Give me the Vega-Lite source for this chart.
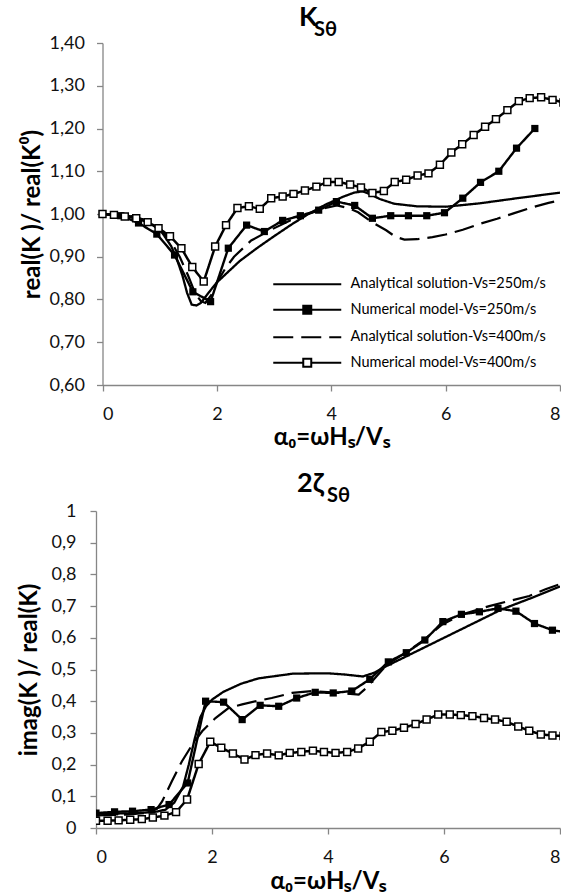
{
  "$schema": "https://vega.github.io/schema/vega-lite/v6.json",
  "background": "white",
  "padding": {"left": 17, "top": 4, "right": 0, "bottom": 0},
  "config": {
    "locale": {"number": {"decimal": ",", "thousands": ".", "grouping": [3], "currency": ["", " €"]}},
    "view": {"stroke": null},
    "font": "Lato",
    "axis": {"grid": false, "domainColor": "#868686", "tickColor": "#868686", "domainWidth": 1.3, "tickWidth": 1.3, "tickSize": 6, "labelFont": "Lato", "labelFontSize": 18, "labelColor": "#111111", "titleFont": "Lato", "titleFontSize": 24, "titleFontWeight": "bold", "titleColor": "black", "labelPadding": 13}
  },
  "datasets": {
    "top": [
      {"s":"A250","x":0,"y":1.0},{"s":"A250","x":0.4,"y":0.997},{"s":"A250","x":0.7,"y":0.988},{"s":"A250","x":0.9,"y":0.972},{"s":"A250","x":1.05,"y":0.955},{"s":"A250","x":1.2,"y":0.925},{"s":"A250","x":1.3,"y":0.895},{"s":"A250","x":1.4,"y":0.855},{"s":"A250","x":1.48,"y":0.815},{"s":"A250","x":1.56,"y":0.788},{"s":"A250","x":1.64,"y":0.786},{"s":"A250","x":1.72,"y":0.792},{"s":"A250","x":1.85,"y":0.815},{"s":"A250","x":2.0,"y":0.84},{"s":"A250","x":2.2,"y":0.865},{"s":"A250","x":2.4,"y":0.89},{"s":"A250","x":2.7,"y":0.92},{"s":"A250","x":3.0,"y":0.948},{"s":"A250","x":3.3,"y":0.975},{"s":"A250","x":3.6,"y":1.0},{"s":"A250","x":3.9,"y":1.022},{"s":"A250","x":4.2,"y":1.04},{"s":"A250","x":4.4,"y":1.05},{"s":"A250","x":4.55,"y":1.053},{"s":"A250","x":4.7,"y":1.045},{"s":"A250","x":4.85,"y":1.035},{"s":"A250","x":5.1,"y":1.024},{"s":"A250","x":5.5,"y":1.018},{"s":"A250","x":6.0,"y":1.017},{"s":"A250","x":6.6,"y":1.025},{"s":"A250","x":7.2,"y":1.036},{"s":"A250","x":7.6,"y":1.043},{"s":"A250","x":8.0,"y":1.05},
      {"s":"A400","x":0,"y":1.0},{"s":"A400","x":0.5,"y":0.995},{"s":"A400","x":0.8,"y":0.983},{"s":"A400","x":1.0,"y":0.967},{"s":"A400","x":1.2,"y":0.935},{"s":"A400","x":1.35,"y":0.9},{"s":"A400","x":1.5,"y":0.855},{"s":"A400","x":1.62,"y":0.815},{"s":"A400","x":1.72,"y":0.796},{"s":"A400","x":1.8,"y":0.792},{"s":"A400","x":1.9,"y":0.81},{"s":"A400","x":2.0,"y":0.84},{"s":"A400","x":2.15,"y":0.873},{"s":"A400","x":2.3,"y":0.9},{"s":"A400","x":2.6,"y":0.938},{"s":"A400","x":2.93,"y":0.962},{"s":"A400","x":3.28,"y":0.985},{"s":"A400","x":3.6,"y":1.0},{"s":"A400","x":3.9,"y":1.014},{"s":"A400","x":4.1,"y":1.02},{"s":"A400","x":4.3,"y":1.014},{"s":"A400","x":4.47,"y":1.004},{"s":"A400","x":4.71,"y":0.981},{"s":"A400","x":4.96,"y":0.962},{"s":"A400","x":5.12,"y":0.947},{"s":"A400","x":5.28,"y":0.94},{"s":"A400","x":5.5,"y":0.941},{"s":"A400","x":5.77,"y":0.946},{"s":"A400","x":6.0,"y":0.952},{"s":"A400","x":6.3,"y":0.963},{"s":"A400","x":6.6,"y":0.977},{"s":"A400","x":6.9,"y":0.989},{"s":"A400","x":7.2,"y":1.002},{"s":"A400","x":7.5,"y":1.015},{"s":"A400","x":7.8,"y":1.026},{"s":"A400","x":8.0,"y":1.032},
      {"s":"N250","x":0,"y":1.0},{"s":"N250","x":0.32,"y":0.996},{"s":"N250","x":0.63,"y":0.979},{"s":"N250","x":0.95,"y":0.953},{"s":"N250","x":1.26,"y":0.904},{"s":"N250","x":1.58,"y":0.818},{"s":"N250","x":1.89,"y":0.795},{"s":"N250","x":2.2,"y":0.92},{"s":"N250","x":2.52,"y":0.974},{"s":"N250","x":2.83,"y":0.959},{"s":"N250","x":3.15,"y":0.985},{"s":"N250","x":3.46,"y":0.996},{"s":"N250","x":3.78,"y":1.009},{"s":"N250","x":4.09,"y":1.029},{"s":"N250","x":4.41,"y":1.02},{"s":"N250","x":4.72,"y":0.99},{"s":"N250","x":5.04,"y":0.996},{"s":"N250","x":5.35,"y":0.996},{"s":"N250","x":5.67,"y":0.996},{"s":"N250","x":5.98,"y":1.003},{"s":"N250","x":6.3,"y":1.037},{"s":"N250","x":6.61,"y":1.074},{"s":"N250","x":6.93,"y":1.1},{"s":"N250","x":7.24,"y":1.154},{"s":"N250","x":7.56,"y":1.2},
      {"s":"N400","x":0,"y":1.0},{"s":"N400","x":0.2,"y":0.998},{"s":"N400","x":0.39,"y":0.994},{"s":"N400","x":0.59,"y":0.99},{"s":"N400","x":0.79,"y":0.981},{"s":"N400","x":0.98,"y":0.967},{"s":"N400","x":1.18,"y":0.948},{"s":"N400","x":1.38,"y":0.92},{"s":"N400","x":1.57,"y":0.876},{"s":"N400","x":1.77,"y":0.842},{"s":"N400","x":1.97,"y":0.924},{"s":"N400","x":2.16,"y":0.974},{"s":"N400","x":2.36,"y":1.014},{"s":"N400","x":2.56,"y":1.018},{"s":"N400","x":2.75,"y":1.012},{"s":"N400","x":2.95,"y":1.037},{"s":"N400","x":3.15,"y":1.041},{"s":"N400","x":3.34,"y":1.047},{"s":"N400","x":3.54,"y":1.055},{"s":"N400","x":3.74,"y":1.064},{"s":"N400","x":3.93,"y":1.075},{"s":"N400","x":4.13,"y":1.075},{"s":"N400","x":4.33,"y":1.069},{"s":"N400","x":4.52,"y":1.062},{"s":"N400","x":4.72,"y":1.049},{"s":"N400","x":4.92,"y":1.054},{"s":"N400","x":5.11,"y":1.075},{"s":"N400","x":5.31,"y":1.08},{"s":"N400","x":5.51,"y":1.09},{"s":"N400","x":5.7,"y":1.095},{"s":"N400","x":5.9,"y":1.115},{"s":"N400","x":6.1,"y":1.144},{"s":"N400","x":6.29,"y":1.163},{"s":"N400","x":6.49,"y":1.185},{"s":"N400","x":6.69,"y":1.204},{"s":"N400","x":6.88,"y":1.222},{"s":"N400","x":7.08,"y":1.243},{"s":"N400","x":7.28,"y":1.264},{"s":"N400","x":7.47,"y":1.271},{"s":"N400","x":7.67,"y":1.273},{"s":"N400","x":7.87,"y":1.267},{"s":"N400","x":8.06,"y":1.261}
    ],
    "bot": [
      {"s":"A250","x":0,"y":0.045},{"s":"A250","x":0.5,"y":0.046},{"s":"A250","x":1.0,"y":0.05},{"s":"A250","x":1.2,"y":0.058},{"s":"A250","x":1.35,"y":0.08},{"s":"A250","x":1.5,"y":0.13},{"s":"A250","x":1.6,"y":0.2},{"s":"A250","x":1.7,"y":0.28},{"s":"A250","x":1.8,"y":0.35},{"s":"A250","x":1.9,"y":0.385},{"s":"A250","x":2.0,"y":0.405},{"s":"A250","x":2.2,"y":0.43},{"s":"A250","x":2.5,"y":0.455},{"s":"A250","x":2.8,"y":0.472},{"s":"A250","x":3.4,"y":0.487},{"s":"A250","x":4.0,"y":0.488},{"s":"A250","x":4.3,"y":0.484},{"s":"A250","x":4.6,"y":0.478},{"s":"A250","x":4.8,"y":0.49},{"s":"A250","x":5.0,"y":0.51},{"s":"A250","x":5.5,"y":0.555},{"s":"A250","x":6.0,"y":0.6},{"s":"A250","x":6.5,"y":0.645},{"s":"A250","x":7.0,"y":0.69},{"s":"A250","x":7.5,"y":0.725},{"s":"A250","x":8.0,"y":0.762},
      {"s":"A400","x":0,"y":0.04},{"s":"A400","x":0.5,"y":0.042},{"s":"A400","x":0.9,"y":0.048},{"s":"A400","x":1.05,"y":0.06},{"s":"A400","x":1.14,"y":0.084},{"s":"A400","x":1.31,"y":0.148},{"s":"A400","x":1.48,"y":0.21},{"s":"A400","x":1.66,"y":0.263},{"s":"A400","x":1.83,"y":0.305},{"s":"A400","x":2.06,"y":0.347},{"s":"A400","x":2.29,"y":0.379},{"s":"A400","x":2.52,"y":0.39},{"s":"A400","x":2.81,"y":0.402},{"s":"A400","x":3.03,"y":0.41},{"s":"A400","x":3.38,"y":0.426},{"s":"A400","x":3.72,"y":0.432},{"s":"A400","x":4.19,"y":0.426},{"s":"A400","x":4.53,"y":0.421},{"s":"A400","x":4.65,"y":0.44},{"s":"A400","x":5.02,"y":0.516},{"s":"A400","x":5.34,"y":0.553},{"s":"A400","x":5.63,"y":0.59},{"s":"A400","x":5.97,"y":0.642},{"s":"A400","x":6.32,"y":0.674},{"s":"A400","x":6.78,"y":0.7},{"s":"A400","x":7.12,"y":0.716},{"s":"A400","x":7.47,"y":0.732},{"s":"A400","x":7.75,"y":0.753},{"s":"A400","x":8.0,"y":0.769},
      {"s":"N250","x":0,"y":0.047},{"s":"N250","x":0.32,"y":0.051},{"s":"N250","x":0.63,"y":0.053},{"s":"N250","x":0.95,"y":0.058},{"s":"N250","x":1.26,"y":0.074},{"s":"N250","x":1.58,"y":0.142},{"s":"N250","x":1.89,"y":0.4},{"s":"N250","x":2.2,"y":0.397},{"s":"N250","x":2.52,"y":0.342},{"s":"N250","x":2.83,"y":0.387},{"s":"N250","x":3.15,"y":0.384},{"s":"N250","x":3.46,"y":0.41},{"s":"N250","x":3.78,"y":0.428},{"s":"N250","x":4.09,"y":0.426},{"s":"N250","x":4.41,"y":0.432},{"s":"N250","x":4.72,"y":0.469},{"s":"N250","x":5.04,"y":0.524},{"s":"N250","x":5.35,"y":0.553},{"s":"N250","x":5.67,"y":0.593},{"s":"N250","x":5.98,"y":0.651},{"s":"N250","x":6.3,"y":0.674},{"s":"N250","x":6.61,"y":0.682},{"s":"N250","x":6.93,"y":0.693},{"s":"N250","x":7.24,"y":0.684},{"s":"N250","x":7.56,"y":0.645},{"s":"N250","x":7.87,"y":0.624},{"s":"N250","x":8.18,"y":0.615},
      {"s":"N400","x":0,"y":0.023},{"s":"N400","x":0.2,"y":0.023},{"s":"N400","x":0.39,"y":0.024},{"s":"N400","x":0.59,"y":0.026},{"s":"N400","x":0.79,"y":0.028},{"s":"N400","x":0.98,"y":0.033},{"s":"N400","x":1.18,"y":0.039},{"s":"N400","x":1.38,"y":0.05},{"s":"N400","x":1.57,"y":0.09},{"s":"N400","x":1.77,"y":0.202},{"s":"N400","x":1.97,"y":0.272},{"s":"N400","x":2.16,"y":0.253},{"s":"N400","x":2.36,"y":0.235},{"s":"N400","x":2.56,"y":0.216},{"s":"N400","x":2.75,"y":0.23},{"s":"N400","x":2.95,"y":0.235},{"s":"N400","x":3.15,"y":0.229},{"s":"N400","x":3.34,"y":0.237},{"s":"N400","x":3.54,"y":0.24},{"s":"N400","x":3.74,"y":0.244},{"s":"N400","x":3.93,"y":0.24},{"s":"N400","x":4.13,"y":0.237},{"s":"N400","x":4.33,"y":0.24},{"s":"N400","x":4.52,"y":0.251},{"s":"N400","x":4.72,"y":0.272},{"s":"N400","x":4.92,"y":0.303},{"s":"N400","x":5.11,"y":0.307},{"s":"N400","x":5.31,"y":0.316},{"s":"N400","x":5.51,"y":0.328},{"s":"N400","x":5.7,"y":0.342},{"s":"N400","x":5.9,"y":0.358},{"s":"N400","x":6.1,"y":0.358},{"s":"N400","x":6.29,"y":0.356},{"s":"N400","x":6.49,"y":0.353},{"s":"N400","x":6.69,"y":0.347},{"s":"N400","x":6.88,"y":0.342},{"s":"N400","x":7.08,"y":0.335},{"s":"N400","x":7.28,"y":0.32},{"s":"N400","x":7.47,"y":0.307},{"s":"N400","x":7.67,"y":0.295},{"s":"N400","x":7.87,"y":0.292},{"s":"N400","x":8.06,"y":0.29}
    ]
  },
  "concat": [
    {
      "width": 464,
      "height": 342,
      "title": {"text": "K", "subtitle": "\u2800Sθ", "anchor": "middle", "align": "left", "dx": -29, "font": "Lato", "fontSize": 27, "fontWeight": "bold", "color": "black", "subtitleFont": "Lato", "subtitleFontSize": 20, "subtitleFontWeight": "bold", "subtitleColor": "black", "subtitlePadding": -12, "offset": -7},
      "data": {"name": "top"},
      "encoding": {
        "x": {"field": "x", "type": "quantitative", "scale": {"domain": [0, 8], "nice": false, "range": [6.5, 464]}, "axis": {"values": [0, 2, 4, 6, 8], "format": "d", "title": "α₀=ωHₛ/Vₛ", "titlePadding": 2, "labelPadding": 14}},
        "y": {"field": "y", "type": "quantitative", "scale": {"domain": [0.6, 1.4], "nice": false, "zero": false}, "axis": {"values": [0.6, 0.7, 0.8, 0.9, 1.0, 1.1, 1.2, 1.3, 1.4], "format": ".2f", "title": "real(K )/ real(K⁰)", "titlePadding": 5, "labelPadding": 12, "offset": -6.5}}
      },
      "layer": [
        {
          "mark": {"type": "line", "color": "black", "clip": true},
          "encoding": {
            "detail": {"field": "s"},
            "strokeDash": {"field": "s", "type": "nominal", "scale": {"domain": ["A400", "A250", "N250", "N400"], "range": [[20, 8], [1, 0], [1, 0], [1, 0]]}, "legend": null},
            "strokeWidth": {"field": "s", "type": "nominal", "scale": {"domain": ["A400", "A250", "N250", "N400"], "range": [2.2, 2.5, 2, 1.5]}, "legend": null}
          }
        },
        {
          "transform": [{"filter": "datum.s === 'N250'"}],
          "mark": {"type": "point", "shape": "square", "filled": true, "color": "black", "size": 52, "opacity": 1, "clip": true}
        },
        {
          "transform": [{"filter": "datum.s === 'N400'"}],
          "mark": {"type": "point", "shape": "square", "filled": true, "fill": "white", "stroke": "black", "strokeWidth": 1.5, "size": 48, "opacity": 1, "clip": true}
        },
        {
          "transform": [{"filter": "datum.x > 100"}],
          "mark": {"type": "point", "filled": true, "stroke": "black", "clip": true},
          "encoding": {
            "shape": {"field": "s", "type": "nominal", "scale": {"domain": ["A250", "N250", "A400", "N400"], "range": ["M-8.5,0H8.5", "M-8.5,0H-1M1,0H8.5M-1,-1H1V1H-1Z", "M-8.5,0H-3.5M-1.5,0H3.5M5.5,0H8.5", "M-8.5,0H-1M1,0H8.5M-1,-1H1V1H-1Z"]},
              "legend": {"title": null, "orient": "bottom-right", "offset": 14, "padding": 0, "labelFont": "Lato", "labelFontSize": 14.5, "labelColor": "black", "labelLimit": 400, "symbolSize": 64, "symbolStrokeWidth": 2, "symbolStrokeColor": "black", "symbolOpacity": 1, "labelOffset": 36, "rowPadding": 10.5, "labelExpr": "datum.label === 'A250' ? 'Analytical solution-Vs=250m/s' : datum.label === 'N250' ? 'Numerical model-Vs=250m/s' : datum.label === 'A400' ? 'Analytical solution-Vs=400m/s' : 'Numerical model-Vs=400m/s'", "encode": {"symbols": {"update": {"stroke": {"value": "black"}, "strokeWidth": {"value": 2}, "opacity": {"value": 1}}}}}},
            "fill": {"field": "s", "type": "nominal", "scale": {"domain": ["A250", "N250", "A400", "N400"], "range": ["black", "black", "black", "white"]},
              "legend": {"title": null, "orient": "bottom-right", "offset": 14, "padding": 0, "labelFont": "Lato", "labelFontSize": 14.5, "labelColor": "black", "labelLimit": 400, "symbolSize": 64, "symbolStrokeWidth": 2, "symbolStrokeColor": "black", "symbolOpacity": 1, "labelOffset": 36, "rowPadding": 10.5, "labelExpr": "datum.label === 'A250' ? 'Analytical solution-Vs=250m/s' : datum.label === 'N250' ? 'Numerical model-Vs=250m/s' : datum.label === 'A400' ? 'Analytical solution-Vs=400m/s' : 'Numerical model-Vs=400m/s'", "encode": {"symbols": {"update": {"stroke": {"value": "black"}, "strokeWidth": {"value": 2}, "opacity": {"value": 1}}}}}}
          }
        }
      ]
    },
    {
      "width": 464,
      "height": 317,
      "title": {"text": "2ζ", "subtitle": "\u2800\u2800Sθ", "anchor": "middle", "align": "left", "dx": -31, "font": "Lato", "fontSize": 27, "fontWeight": "bold", "color": "black", "subtitleFont": "Lato", "subtitleFontSize": 20, "subtitleFontWeight": "bold", "subtitleColor": "black", "subtitlePadding": -12, "offset": -5},
      "data": {"name": "bot"},
      "encoding": {
        "x": {"field": "x", "type": "quantitative", "scale": {"domain": [0, 8], "nice": false}, "axis": {"values": [0, 2, 4, 6, 8], "format": "d", "title": "α₀=ωHₛ/Vₛ", "titlePadding": 3, "labelPadding": 14}},
        "y": {"field": "y", "type": "quantitative", "scale": {"domain": [0, 1], "nice": false}, "axis": {"values": [0, 0.1, 0.2, 0.3, 0.4, 0.5, 0.6, 0.7, 0.8, 0.9, 1], "format": ".1~f", "title": "imag(K )/ real(K)", "titlePadding": 10, "labelPadding": 14}}
      },
      "layer": [
        {
          "mark": {"type": "line", "color": "black", "clip": true},
          "encoding": {
            "detail": {"field": "s"},
            "strokeDash": {"field": "s", "type": "nominal", "scale": {"domain": ["A400", "A250", "N250", "N400"], "range": [[20, 8], [1, 0], [1, 0], [1, 0]]}, "legend": null},
            "strokeWidth": {"field": "s", "type": "nominal", "scale": {"domain": ["A400", "A250", "N250", "N400"], "range": [2.2, 2.5, 2, 1.5]}, "legend": null}
          }
        },
        {
          "transform": [{"filter": "datum.s === 'N250'"}],
          "mark": {"type": "point", "shape": "square", "filled": true, "color": "black", "size": 52, "opacity": 1, "clip": true}
        },
        {
          "transform": [{"filter": "datum.s === 'N400'"}],
          "mark": {"type": "point", "shape": "square", "filled": true, "fill": "white", "stroke": "black", "strokeWidth": 1.5, "size": 48, "opacity": 1, "clip": true}
        }
      ]
    }
  ],
  "columns": 1,
  "spacing": 21,
  "resolve": {"scale": {"strokeDash": "independent", "strokeWidth": "independent", "shape": "independent", "fill": "independent"}, "legend": {"shape": "independent", "fill": "independent", "strokeDash": "independent", "strokeWidth": "independent"}}
}
